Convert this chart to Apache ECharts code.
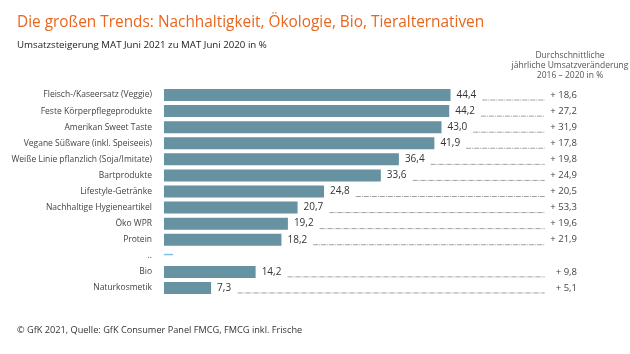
<!DOCTYPE html>
<html>
<head>
<meta charset="utf-8">
<script src="https://cdn.jsdelivr.net/npm/echarts@6/dist/echarts.min.js"></script>
<style>
  html, body { margin: 0; padding: 0; background: #fff; }
  #chart { width: 630px; height: 354px; }
</style>
</head>
<body>
<div id="chart"></div>
<script>
// Kategorien (von oben nach unten)
const categories = [
  'Fleisch-/Kaseersatz (Veggie)',
  'Feste Körperpflegeprodukte',
  'Amerikan Sweet Taste',
  'Vegane Süßware (inkl. Speiseeis)',
  'Weiße Linie pflanzlich (Soja/Imitate)',
  'Bartprodukte',
  'Lifestyle-Getränke',
  'Nachhaltige Hygieneartikel',
  'Öko WPR',
  'Protein',
  '..',
  'Bio',
  'Naturkosmetik'
]
// Umsatzsteigerung MAT Juni 2021 zu MAT Juni 2020 in %
const growth = [44.4, 44.2, 43.0, 41.9, 36.4, 33.6, 24.8, 20.7, 19.2, 18.2, null, 14.2, 7.3]
// Durchschnittliche jährliche Umsatzveränderung 2016 - 2020 in %
const trend = [18.6, 27.2, 31.9, 17.8, 19.8, 24.9, 20.5, 53.3, 19.6, 21.9, null, 9.8, 5.1]
// kleiner Trennstrich bei ".."
const separator = [[1.4, 10]]

const leaderEnd = 59

const fmt = v => v.toFixed(1).replace('.', ',')

const chart = echarts.init(document.getElementById('chart'))
const font = '"Open Sans", "Noto Sans", sans-serif'

const option = {
  animation: false,
  textStyle: { fontFamily: font },
  title: [
    {
      text: 'Die großen Trends: Nachhaltigkeit, Ökologie, Bio, Tieralternativen',
      left: 12,
      top: 10,
      textStyle: { color: '#e8661e', fontSize: 15.4, fontWeight: 'normal', fontFamily: font }
    },
    {
      text: 'Umsatzsteigerung MAT Juni 2021 zu MAT Juni 2020 in %',
      left: 12,
      top: 35,
      textStyle: { color: '#222', fontSize: 9.7, fontWeight: 'normal', fontFamily: font }
    },
    {
      text: 'Durchschnittliche\njährliche Umsatzveränderung\n2016 – 2020 in %',
      left: 565,
      top: 46,
      textAlign: 'center',
      textStyle: { color: '#555', fontSize: 8.5, lineHeight: 10, fontWeight: 'normal', fontFamily: font }
    },
    {
      text: '© GfK 2021, Quelle: GfK Consumer Panel FMCG, FMCG inkl. Frische',
      left: 12,
      top: 321,
      textStyle: { color: '#333', fontSize: 9.2, fontWeight: 'normal', fontFamily: font }
    }
  ],
  grid: {
    left: 164,
    right: 53,
    top: 87,
    bottom: 58
  },
  xAxis: {
    type: 'value',
    min: 0,
    max: 64,
    show: false
  },
  yAxis: [
    {
      type: 'category',
      data: categories,
      inverse: true,
      axisLine: { show: false },
      axisTick: { show: false },
      axisLabel: { color: '#444', fontSize: 8.5, margin: 12, fontFamily: font }
    },
    {
      type: 'category',
      position: 'right',
      data: trend.map(v => v == null ? '' : '+ ' + fmt(v)),
      inverse: true,
      axisLine: { show: false },
      axisTick: { show: false },
      axisLabel: { inside: true, margin: 0, color: '#444', fontSize: 9.5, fontFamily: font }
    }
  ],
  series: [
    {
      type: 'bar',
      data: growth,
      barWidth: 12,
      itemStyle: { color: '#6692a1' },
      label: {
        show: true,
        position: 'right',
        distance: 6,
        color: '#333',
        fontSize: 10,
        fontFamily: font,
        formatter: p => fmt(p.value)
      }
    },
    {
      // Trennstrich
      type: 'custom',
      data: separator,
      renderItem (params, api) {
        const a = api.coord([0, api.value(1)])
        const b = api.coord([api.value(0), api.value(1)])
        return {
          type: 'rect',
          shape: { x: a[0], y: a[1] - 2, width: b[0] - a[0], height: 1.5 },
          style: { fill: '#7cc3e3' }
        }
      }
    },
    {
      // gepunktete Führungslinien
      type: 'custom',
      data: growth.map((v, i) => [v, i]),
      renderItem (params, api) {
        const v = api.value(0)
        if (isNaN(v) || v == null) return null
        const start = api.coord([v, api.value(1)])
        const end = api.coord([leaderEnd, api.value(1)])
        const x0 = start[0] + 8 + fmt(v).length * 5.2 + 3
        const y = start[1] + 5
        return {
          type: 'line',
          shape: { x1: x0, y1: y, x2: end[0], y2: y },
          style: { stroke: '#8f867f', lineWidth: 0.8, lineDash: [5, 1, 1, 1] }
        }
      }
    }
  ]
}

chart.setOption(option)
</script>
</body>
</html>
